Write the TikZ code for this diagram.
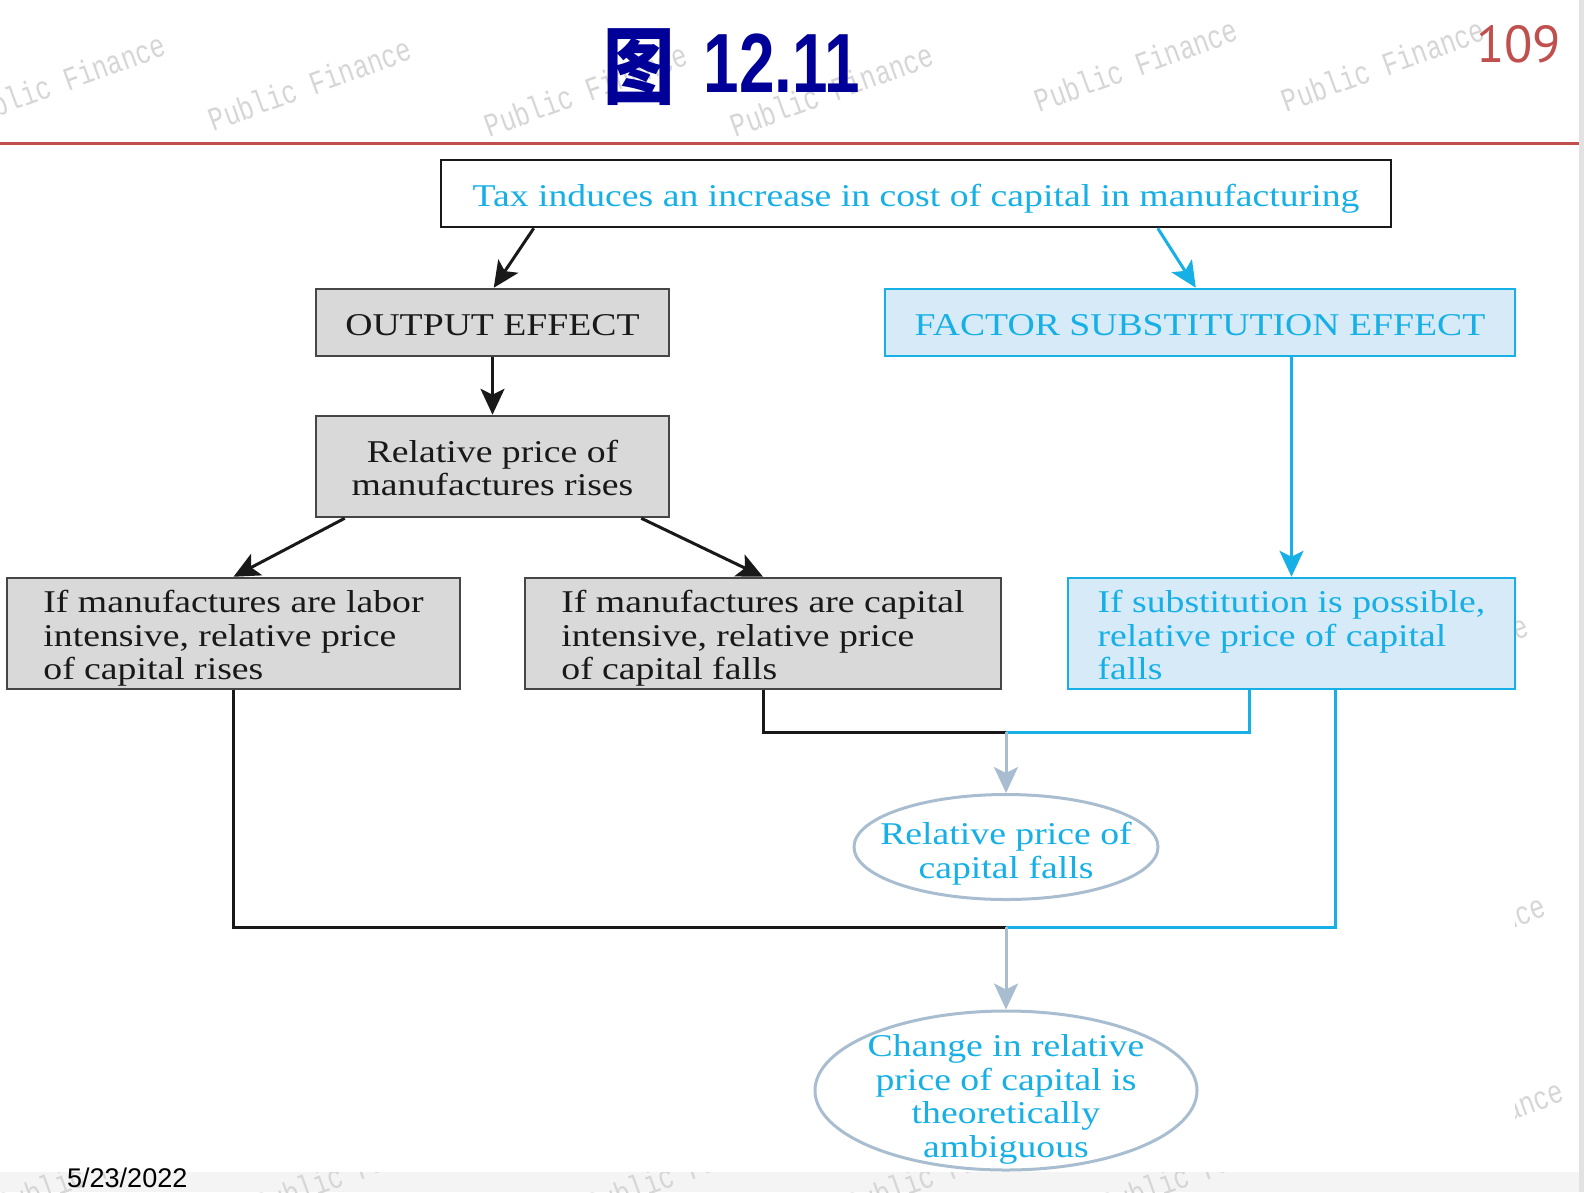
\documentclass[tikz,border=0pt]{standalone}
\usepackage{fontspec}
\usetikzlibrary{arrows.meta,shapes.geometric,calc}

% fonts
\newfontfamily\figfont[FakeStretch=1.19]{Liberation Serif}
\newfontfamily\wmmono[FakeStretch=0.77]{Liberation Mono}
\newfontfamily\titlefont[FakeStretch=0.76]{Liberation Sans}
\newfontfamily\cjkfont[FakeStretch=0.85]{Noto Sans CJK SC}
\newfontfamily\pagefont{PT Sans}
\newfontfamily\datefont{Liberation Sans}

% fixed first-line height and last-line depth, so every box sets its text alike
\newcommand\boxtopstrut{\rule{0pt}{33bp}}
\newcommand\boxbotstrut{\rule[-8bp]{0pt}{8bp}}

% colours
\definecolor{capcyan}{RGB}{22,176,230}
\definecolor{lightblue}{RGB}{214,234,248}
\definecolor{boxgray}{RGB}{217,217,217}
\definecolor{boxline}{RGB}{70,70,70}
\definecolor{ink}{RGB}{25,25,25}
\definecolor{ovalline}{RGB}{168,190,208}
\definecolor{titleblue}{RGB}{0,0,153}
\definecolor{slidered}{RGB}{192,80,77}
\definecolor{wmgray}{RGB}{214,214,214}
\definecolor{bandgray}{RGB}{244,244,244}
\definecolor{edgegray}{RGB}{226,226,226}

\begin{document}
\begin{tikzpicture}[x=1bp,y=-1bp,
  txt/.style={font=\figfont\fontsize{31.7bp}{33.5bp}\selectfont, inner sep=0pt},
  oneline/.style={txt, text height=33bp, text depth=8bp},
  graybox/.style={rectangle, draw=boxline, fill=boxgray, text=ink, line width=2.5bp},
  bluebox/.style={rectangle, draw=capcyan, fill=lightblue, text=capcyan, line width=2.5bp},
  topbox/.style={rectangle, draw=ink, fill=white, text=capcyan, line width=2.5bp},
  oval/.style={ellipse, draw=ovalline, fill=white, line width=3bp, inner sep=0pt},
  ovaltext/.style={txt, text=capcyan, align=center},
  blk/.style={draw=ink, line width=3bp},
  cyn/.style={draw=capcyan, line width=3bp},
  gbl/.style={draw=ovalline, line width=3bp},
  tipblk/.style={-{Stealth[length=26bp,width=24bp,inset=6bp]}},
  wmark/.style={font=\wmmono\fontsize{33bp}{33bp}\selectfont, text=wmgray, rotate=20, inner sep=0pt}
]
\useasboundingbox (0,0) rectangle (1584,1192);
\clip (0,0) rectangle (1584,1192);

% slide background, bottom band and right edge
\fill[white] (0,0) rectangle (1584,1192);
\fill[bandgray] (0,1172) rectangle (1584,1192);
\fill[edgegray] (1579,0) rectangle (1584,1192);

% background watermarks
\foreach \cx/\cy [count=\i] in {64/80, 310/84, 586/90, 832/90, 1136/65, 1383/65,
    1427/661, 1444/941, 1462/1126,
    98/1169, 356/1169, 687/1169, 947/1169, 1202/1169}
  \node[wmark] (pf\i) at (\cx,\cy) {Public Finance};

% figure area
\fill[white] (4,148) rectangle (1515,1172);

% header rule
\draw[slidered, line width=3.5bp] (0,143.5) -- (1579,143.5);

% title and page number
\node[anchor=base west, text=titleblue, inner sep=0pt] (title) at (603,92)
  {\fontsize{84bp}{84bp}\selectfont\raisebox{-5bp}{\cjkfont\bfseries 图}\hspace{29bp}{\titlefont\bfseries 12.11}};
\node[anchor=base west, text=slidered, inner sep=0pt] (pageno) at (1476,62)
  {\pagefont\fontsize{52bp}{52bp}\selectfont 109};

% boxes
\node[oneline, topbox, minimum width=950bp, minimum height=67bp] (top) at (916,193.5)
  {Tax induces an increase in cost of capital in manufacturing};
\node[oneline, graybox, minimum width=353bp, minimum height=67bp] (out) at (492.5,322.5)
  {OUTPUT EFFECT};
\node[oneline, bluebox, minimum width=630bp, minimum height=67bp] (fse) at (1200,322.5)
  {FACTOR SUBSTITUTION EFFECT};
\node[txt, graybox, align=center, minimum width=353bp, minimum height=101bp] (rel) at (492.5,466.5)
  {\boxtopstrut Relative price of\\manufactures rises\boxbotstrut};
\node[txt, graybox, align=left, minimum width=453bp, minimum height=111bp] (lab) at (233.5,633.5)
  {\boxtopstrut If manufactures are labor\\intensive, relative price\\of capital rises\boxbotstrut};
\node[txt, graybox, align=left, minimum width=476bp, minimum height=111bp] (cap) at (763,633.5)
  {\boxtopstrut If manufactures are capital\\intensive, relative price\\of capital falls\boxbotstrut};
\node[txt, bluebox, align=left, minimum width=447bp, minimum height=111bp] (sub) at (1291.5,633.5)
  {\boxtopstrut If substitution is possible,\\relative price of capital\\falls\boxbotstrut};

% outcome ovals
\node[oval, minimum width=304bp, minimum height=105bp] (e1) at (1006,847) {};
\node[ovaltext] (e1t) at ([yshift=-2bp]e1.center)
  {\boxtopstrut Relative price of\\capital falls\boxbotstrut};
\node[oval, minimum width=382bp, minimum height=159bp] (e2) at (1006,1090.5) {};
\node[ovaltext] (e2t) at ([yshift=-4bp]e2.center)
  {\boxtopstrut Change in relative\\price of capital is\\theoretically\\ambiguous\boxbotstrut};

% connectors
\coordinate (j1) at (1006,732);
\coordinate (j2) at (1006,927);

\draw[blk, tipblk] ($(top.south west)+(94,0)$) -- ($(out.north west)+(179,0)$);
\draw[cyn, tipblk] ($(top.south west)+(718,0)$) -- ($(fse.north west)+(312,0)$);
\draw[blk, tipblk] (out.south) -- (rel.north);
\draw[blk, tipblk] ($(rel.south west)+(30,0)$) -- (lab.north);
\draw[blk, tipblk] ($(rel.south east)+(-29,0)$) -- (cap.north);
\draw[cyn, tipblk] (fse.south -| sub.north) -- (sub.north);

\draw[blk] (cap.south) |- (j1);
\draw[cyn] ($(sub.south west)+(183,0)$) |- (j1);
\draw[gbl, tipblk] (j1) -- (e1.north);

\draw[blk] (lab.south) |- (j2);
\draw[cyn] ($(sub.south east)+(-181,0)$) |- (j2);
\draw[gbl, tipblk] (j2) -- (e2.north);

% footer date
\node[anchor=base west, inner sep=0pt] (date) at (67,1187)
  {\datefont\fontsize{27bp}{27bp}\selectfont 5/23/2022};
\end{tikzpicture}
\end{document}
